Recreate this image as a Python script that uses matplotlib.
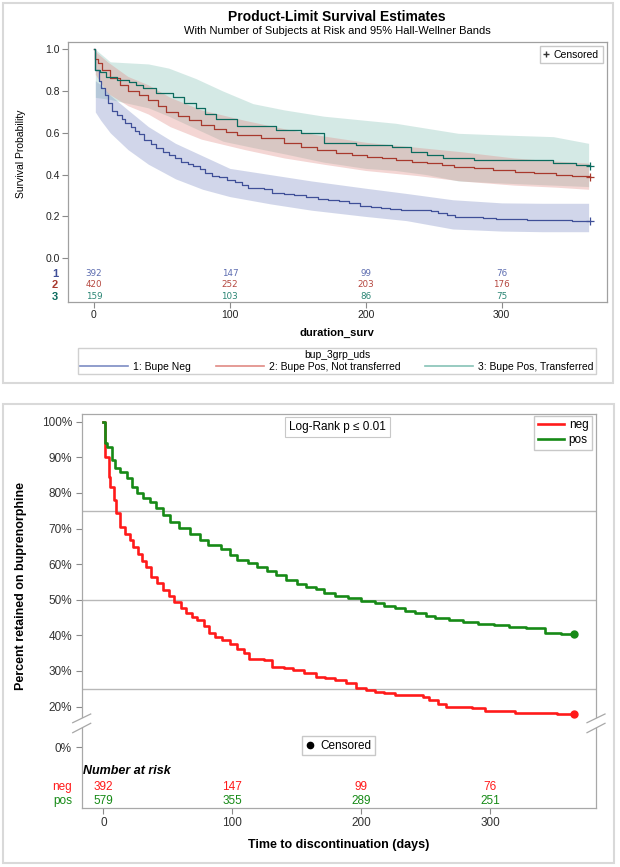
import numpy as np
import matplotlib
matplotlib.use('Agg')
import matplotlib.pyplot as plt
from matplotlib.lines import Line2D
from matplotlib.patches import Rectangle, Polygon

plt.rcParams['font.family'] = ['Liberation Sans', 'DejaVu Sans']

# ---------------- data ----------------
ticks_days = [0, 100, 200, 300]

# group 1 / neg (same 392 subjects in both panels), percent retained
neg_t = [0, 1, 4, 5, 8, 10, 13, 17, 21, 23, 27, 30, 33, 37, 42, 46, 51, 55, 60, 64,
         69, 73, 78, 82, 87, 92, 98, 104, 109, 113, 125, 131, 140, 147, 156, 165, 172,
         180, 188, 196, 204, 211, 218, 226, 248, 253, 260, 266, 286, 296, 319, 352, 365]
neg_p = [100, 90.2, 84.6, 81.7, 78.0, 74.3, 70.5, 68.6, 66.8, 64.9, 63.0, 61.0, 59.3,
         56.5, 54.6, 52.7, 51.0, 49.4, 47.8, 46.2, 45.3, 44.3, 42.5, 40.6, 39.6, 38.7,
         37.5, 36.3, 35.0, 33.5, 33.0, 31.2, 30.8, 30.3, 29.3, 28.4, 28.0, 27.5, 26.5,
         25.1, 24.7, 24.2, 23.8, 23.3, 22.8, 21.8, 20.8, 19.8, 19.5, 18.8, 18.3, 18.0, 17.8]

pos_t = [0, 1.5, 3, 6.5, 9, 13, 18, 22, 26, 31, 36, 41, 46, 52, 59, 67, 75, 81, 91, 98,
         104, 112, 119, 127, 134, 142, 150, 157, 165, 171, 180, 190, 200, 211, 218, 226,
         234, 242, 250, 257, 268, 279, 291, 303, 315, 328, 343, 355, 365]
pos_p = [100, 93.9, 93.0, 89.2, 86.9, 86.0, 84.1, 81.7, 79.9, 78.5, 77.5, 75.7, 73.8,
         71.9, 70.1, 68.6, 66.8, 65.4, 64.4, 62.6, 61.2, 60.2, 59.3, 58.0, 56.9, 55.6,
         54.5, 53.7, 53.0, 51.8, 51.1, 50.4, 49.6, 49.0, 48.3, 47.6, 46.9, 46.2, 45.4,
         44.8, 44.3, 43.8, 43.3, 42.9, 42.4, 42.0, 40.8, 40.5, 40.4]

# top panel groups 2 and 3 (survival probability)
grp2_t = [0, 1, 3, 6, 12, 19, 25, 33, 40, 47, 53, 62, 70, 79, 88, 97, 105, 123, 140, 152,
          164, 178, 190, 201, 212, 222, 234, 245, 256, 265, 280, 294, 310, 324, 340, 352, 365]
grp2_s = [1.0, 0.952, 0.935, 0.90, 0.861, 0.829, 0.80, 0.78, 0.757, 0.73, 0.70, 0.68,
          0.662, 0.64, 0.62, 0.605, 0.59, 0.574, 0.55, 0.532, 0.518, 0.502, 0.494, 0.486,
          0.478, 0.47, 0.462, 0.455, 0.446, 0.438, 0.43, 0.422, 0.414, 0.407, 0.40, 0.395, 0.39]
grp3_t = [0, 1, 4.5, 9, 17, 26, 31, 36, 46, 58, 66, 75, 82, 90, 105, 134, 152, 169, 193,
          219, 233, 245, 257, 280, 338, 355, 365]
grp3_s = [1.0, 0.90, 0.893, 0.869, 0.853, 0.845, 0.83, 0.813, 0.789, 0.773, 0.742, 0.72,
          0.69, 0.665, 0.632, 0.614, 0.598, 0.55, 0.542, 0.534, 0.51, 0.494, 0.478, 0.47,
          0.455, 0.447, 0.442]

# Hall-Wellner bands
band1_t = [1, 5, 12, 25, 40, 60, 80, 100, 130, 160, 200, 230, 264, 300, 330, 364]
band1_lo = [0.70, 0.66, 0.60, 0.52, 0.45, 0.38, 0.33, 0.295, 0.26, 0.23, 0.20, 0.18, 0.14, 0.13, 0.127, 0.127]
band1_hi = [0.85, 0.83, 0.78, 0.71, 0.63, 0.55, 0.49, 0.43, 0.40, 0.37, 0.335, 0.31, 0.28, 0.265, 0.263, 0.263]
band2_t = [1, 10, 25, 40, 56, 79, 111, 140, 169, 200, 239, 270, 309, 340, 364]
band2_lo = [0.88, 0.79, 0.73, 0.69, 0.63, 0.57, 0.52, 0.48, 0.45, 0.42, 0.395, 0.37, 0.35, 0.34, 0.33]
band2_hi = [0.99, 0.94, 0.87, 0.83, 0.77, 0.71, 0.66, 0.62, 0.585, 0.555, 0.53, 0.51, 0.48, 0.465, 0.455]
band3_t = [1, 12, 40, 55, 75, 95, 117, 140, 169, 200, 222, 245, 268, 300, 338, 364]
band3_lo = [0.77, 0.76, 0.72, 0.68, 0.62, 0.56, 0.53, 0.50, 0.46, 0.43, 0.42, 0.40, 0.37, 0.36, 0.35, 0.343]
band3_hi = [1.0, 0.94, 0.93, 0.91, 0.86, 0.80, 0.74, 0.71, 0.68, 0.66, 0.646, 0.622, 0.598, 0.59, 0.582, 0.55]

# numbers at risk
risk_top = {'1': [392, 147, 99, 76], '2': [420, 252, 203, 176], '3': [159, 103, 86, 75]}
risk_neg = [392, 147, 99, 76]
risk_pos = [579, 355, 289, 251]

top_labels = ['1: Bupe Neg', '2: Bupe Pos, Not transferred', '3: Bupe Pos, Transferred']

# ---------------- figure ----------------
W, H = 620, 867
fig = plt.figure(figsize=(6.2, 8.67), dpi=100)


def fbox(x0, y0, x1, y1):
    return [x0 / W, 1 - y1 / H, (x1 - x0) / W, (y1 - y0) / H]


for r in [(3, 3, 613, 383), (3, 404, 614, 863)]:
    b = fbox(*r)
    fig.add_artist(Rectangle((b[0], b[1]), b[2], b[3], transform=fig.transFigure,
                             fill=False, ec='#d9d9d9', lw=1.5))

c1, c2, c3 = '#3f4f98', '#a8392d', '#0b6b5e'
f1, f2, f3 = '#7d8cc4', '#e08a84', '#86c2b6'

# ---- top panel ----
ax1 = fig.add_axes(fbox(68, 42, 606.7, 301.7))
for t, lo, hi, fc in [(band3_t, band3_lo, band3_hi, f3), (band2_t, band2_lo, band2_hi, f2),
                      (band1_t, band1_lo, band1_hi, f1)]:
    ax1.fill_between(t, lo, hi, color=fc, alpha=0.35, lw=0)

s_neg = np.array(neg_p) / 100
ax1.step(neg_t, s_neg, where='post', color=c1, lw=0.9)
ax1.step(grp2_t, grp2_s, where='post', color=c2, lw=0.9)
ax1.step(grp3_t, grp3_s, where='post', color=c3, lw=0.9)
for t, s, c in [(neg_t, s_neg, c1), (grp2_t, grp2_s, c2), (grp3_t, grp3_s, c3)]:
    ax1.plot(t[-1], s[-1], marker='+', color=c, ms=6, mew=0.9)

ax1.set_xlim(-19.1, 377.3)
ax1.set_ylim(-0.208, 1.035)
ax1.set_yticks([0, 0.2, 0.4, 0.6, 0.8, 1.0])
ax1.set_yticklabels(['0.0', '0.2', '0.4', '0.6', '0.8', '1.0'])
ax1.set_xticks(ticks_days)
ax1.tick_params(length=4, width=0.8, color='#8a8a8a', labelsize=7.5, labelcolor='#222222', pad=2)
for sp in ax1.spines.values():
    sp.set_color('#a0a0a0')
    sp.set_linewidth(0.9)
ax1.set_xlabel('duration_surv', fontsize=8, fontweight='bold', labelpad=6)

row_y = [-0.075, -0.128, -0.184]
row_c = [c1, c2, c3]
num_c = ['#5c6cb0', '#b5473f', '#2a8574']
for (k, vals), y, c, nc in zip(risk_top.items(), row_y, row_c, num_c):
    ax1.text(-28.7, y, k, color=c, fontsize=8, fontweight='bold', ha='center', va='center', clip_on=False)
    for t, v in zip(ticks_days, vals):
        ax1.text(t, y, str(v), color=nc, fontsize=6.3, family='DejaVu Sans',
                 ha='center', va='center')

ax1.legend(handles=[Line2D([], [], marker='+', ls='', color='#333333', ms=5, label='Censored')],
           loc='upper right', fontsize=7.5, handlelength=0.6, handletextpad=0.4,
           fancybox=False, edgecolor='#c8c8c8', borderpad=0.35, borderaxespad=0.4, framealpha=1)

fig.text(337 / W, 1 - 17 / H, 'Product-Limit Survival Estimates', ha='center', va='center',
         fontsize=10, fontweight='bold')
fig.text(337 / W, 1 - 31 / H, 'With Number of Subjects at Risk and 95% Hall-Wellner Bands',
         ha='center', va='center', fontsize=8)
fig.text(21 / W, 1 - 153.5 / H, 'Survival Probability', rotation=90, ha='center', va='center',
         fontsize=7.5)

handles = [Line2D([], [], color=f1, lw=1.2), Line2D([], [], color=f2, lw=1.2),
           Line2D([], [], color=f3, lw=1.2)]
lg = fig.legend(handles, top_labels, ncol=3, mode='expand', title='bup_3grp_uds',
                bbox_to_anchor=(73 / W, 1 - 374 / H, 528 / W, 26 / H), loc='center',
                fontsize=7.5, title_fontsize=7.5, handlelength=4.6, handletextpad=0.5,
                fancybox=False, edgecolor='#d0d0d0', borderpad=0.2, labelspacing=0.1,
                framealpha=1)

# ---- bottom panel ----
BRK, K = 15.0, 0.427


def fwd(v):
    v = np.asarray(v, dtype=float)
    return np.where(v >= BRK, v, BRK - (BRK - v) * K)


def inv(u):
    u = np.asarray(u, dtype=float)
    return np.where(u >= BRK, u, BRK - (BRK - u) / K)


red, green = '#ff1a1a', '#168a16'
ax2 = fig.add_axes(fbox(81.7, 414.3, 596, 807.7))
ax2.set_yscale('function', functions=(fwd, inv))
ax2.set_ylim(-39.8, 102.1)
ax2.set_xlim(-16.8, 382.2)
for y in [25, 50, 75]:
    ax2.axhline(y, color='#b8b8b8', lw=1, zorder=1)

ax2.step(neg_t, neg_p, where='post', color=red, lw=1.9, label='neg', zorder=3)
ax2.step(pos_t, pos_p, where='post', color=green, lw=1.9, label='pos', zorder=3)
ax2.plot(neg_t[-1], neg_p[-1], 'o', color=red, ms=5, zorder=4)
ax2.plot(pos_t[-1], pos_p[-1], 'o', color=green, ms=5, zorder=4)

ax2.set_yticks([0, 20, 30, 40, 50, 60, 70, 80, 90, 100])
ax2.set_yticklabels(['0%', '20%', '30%', '40%', '50%', '60%', '70%', '80%', '90%', '100%'])
ax2.yaxis.set_minor_locator(matplotlib.ticker.NullLocator())
ax2.set_xticks(ticks_days)
ax2.tick_params(length=4, width=0.8, color='#8a8a8a', labelsize=8.5, labelcolor='#333333', pad=3)
for sp in ax2.spines.values():
    sp.set_color('#a8a8a8')
    sp.set_linewidth(0.9)
ax2.set_xlabel('Time to discontinuation (days)', fontsize=9, fontweight='bold', labelpad=7)
fig.text(21 / W, 1 - 585.5 / H, 'Percent retained on buprenorphine', rotation=90,
         ha='center', va='center', fontsize=9, fontweight='bold')

leg = ax2.legend(loc='upper right', bbox_to_anchor=(0.992, 0.996), borderaxespad=0,
                 fontsize=8.5, handlelength=2.2, handletextpad=0.4, labelspacing=0.25,
                 fancybox=False, edgecolor='#c8c8c8', borderpad=0.3, framealpha=1)
ax2.add_artist(leg)
ax2.legend(handles=[Line2D([], [], marker='o', ls='', color='black', ms=4.5, label='Censored')],
           loc='center', bbox_to_anchor=(0.499, 0.157), fontsize=8.5, handlelength=0.8,
           handletextpad=0.5, fancybox=False, edgecolor='#c8c8c8', borderpad=0.3, framealpha=1)
ax2.text(0.497, 0.9677, 'Log-Rank p \u2264 0.01', transform=ax2.transAxes, ha='center',
         va='center', fontsize=8.5,
         bbox=dict(boxstyle='square,pad=0.35', fc='white', ec='#c8c8c8', lw=0.8))

xt = ax2.get_xaxis_transform()
ax2.text(0.003, 0.0933, 'Number at risk', transform=ax2.transAxes, fontsize=9,
         fontweight='bold', fontstyle='italic', va='center', ha='left')
for lab, vals, y, c in [('neg', risk_neg, 0.0534, red), ('pos', risk_pos, 0.0178, green)]:
    ax2.text(-24.3, y, lab, transform=xt, ha='right', va='center', color=c, fontsize=8.5,
             clip_on=False)
    for t, v in zip(ticks_days, vals):
        ax2.text(t, y, str(v), transform=xt, ha='center', va='center', color=c, fontsize=8.5)

# axis break marks on both spines
for xs in [81.7, 596]:
    pts = [(xs - 9, 722.7), (xs + 9, 714), (xs + 9, 723.3), (xs - 9, 732.7)]
    fig.add_artist(Polygon([(x / W, 1 - y / H) for x, y in pts], closed=True,
                           transform=fig.transFigure, fc='white', ec='none', zorder=5))
    for (xa, ya), (xb, yb) in [((xs - 9, 722.7), (xs + 9, 714)), ((xs - 9, 732.7), (xs + 9, 723.3))]:
        fig.add_artist(Line2D([xa / W, xb / W], [1 - ya / H, 1 - yb / H], transform=fig.transFigure,
                              color='#a8a8a8', lw=0.9, zorder=6))

fig.savefig('out.png', dpi=100)
